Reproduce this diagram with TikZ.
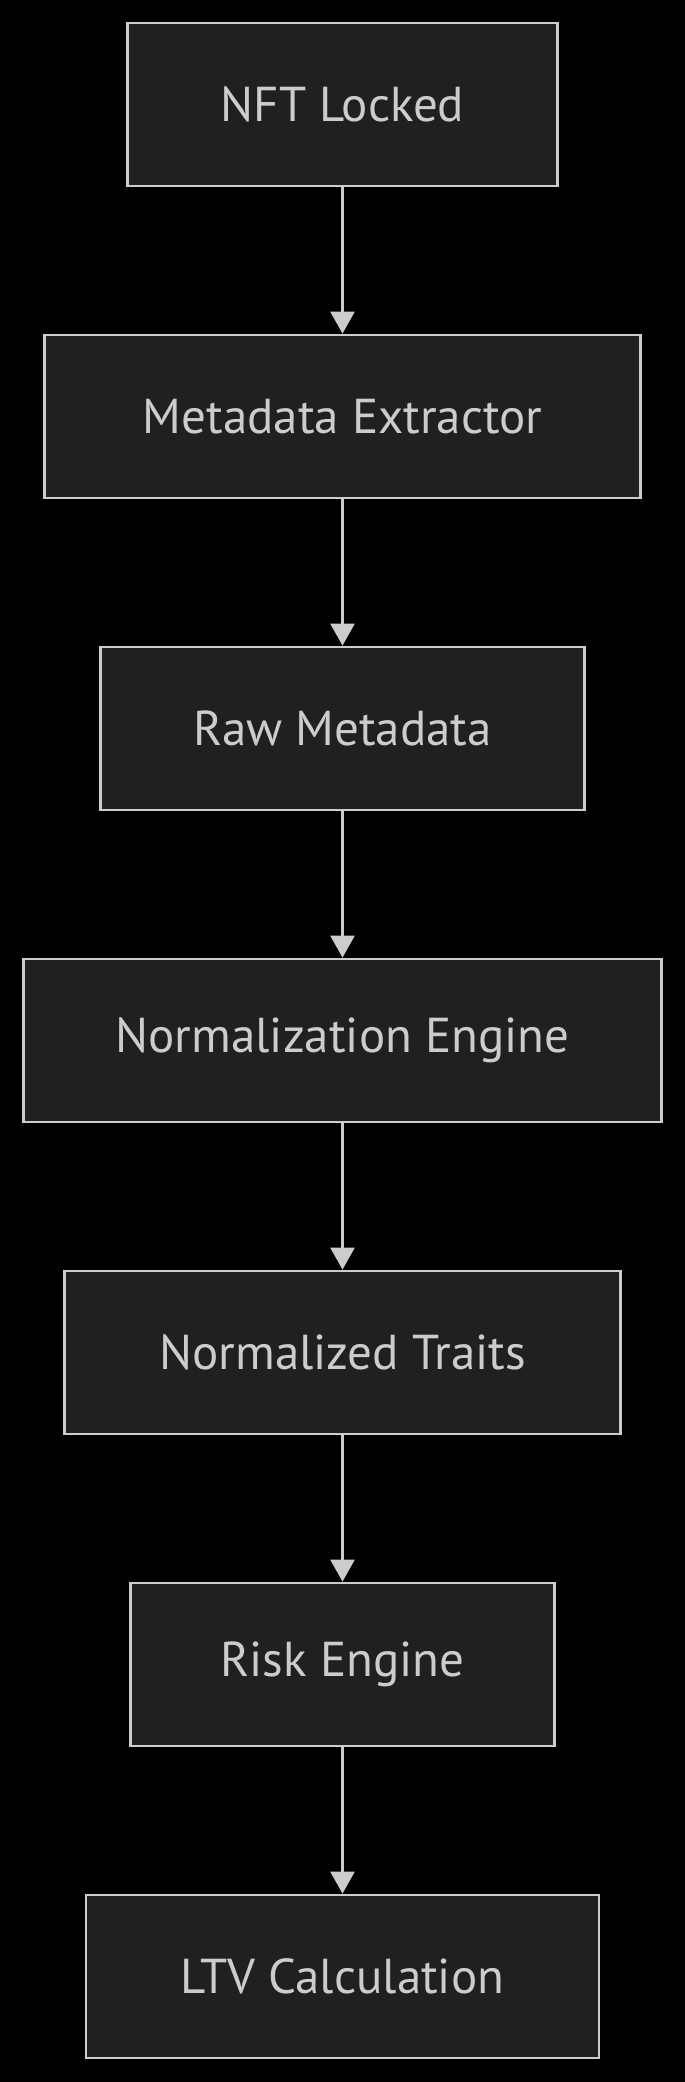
\documentclass[tikz,border=0pt]{standalone}
\usepackage{fontspec}
\setmainfont{PT Sans}
\usetikzlibrary{arrows.meta}
\definecolor{boxfill}{HTML}{1F2020}
\definecolor{boxline}{HTML}{CCCCCC}
\definecolor{txt}{HTML}{CCCCCC}
\begin{document}
\begin{tikzpicture}[x=1pt,y=-1pt,
  box/.style={draw=boxline, fill=boxfill, line width=2.8pt, minimum height=163pt, inner sep=0pt, text=txt, font=\fontsize{49}{54}\selectfont},
  flow/.style={draw=boxline, line width=2.6pt, -{Triangle[length=22pt,width=24pt]}}]
\fill[black] (0,0) rectangle (685,2082);
\node[box, minimum width=429.6pt] (a) at (342.5,104.5) {NFT Locked};
\node[box, minimum width=596pt] (b) at (342.5,416.5) {Metadata Extractor};
\node[box, minimum width=484.4pt] (c) at (342.5,728.5) {Raw Metadata};
\node[box, minimum width=638.4pt] (d) at (342.5,1040.5) {Normalization Engine};
\node[box, minimum width=556pt] (e) at (342.5,1352.5) {Normalized Traits};
\node[box, minimum width=423.6pt] (f) at (342.5,1664.5) {Risk Engine};
\node[box, minimum width=513pt] (g) at (342.5,1976.5) {LTV Calculation};
\draw[flow] (a) -- (b);
\draw[flow] (b) -- (c);
\draw[flow] (c) -- (d);
\draw[flow] (d) -- (e);
\draw[flow] (e) -- (f);
\draw[flow] (f) -- (g);
\end{tikzpicture}
\end{document}
